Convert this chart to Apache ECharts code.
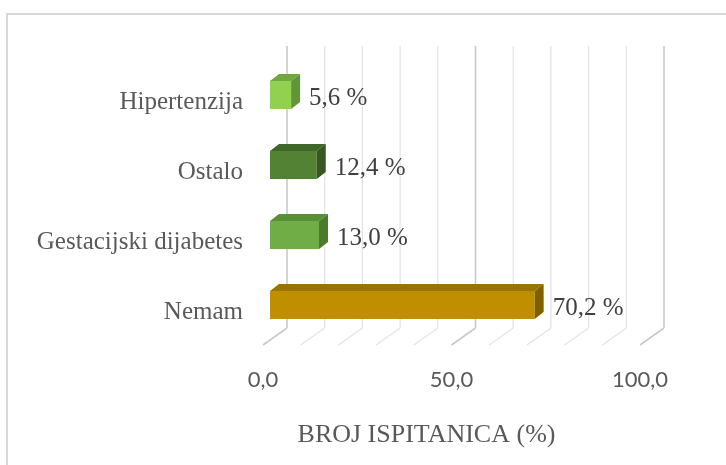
<!DOCTYPE html>
<html>
<head>
<meta charset="utf-8">
<script src="https://cdn.jsdelivr.net/npm/echarts@6/dist/echarts.min.js"></script>
<style>
html,body{margin:0;padding:0;background:#fff;}
#chart{width:726px;height:465px;}
</style>
</head>
<body>
<div id="chart"></div>
<script>
// ---- data ----
const categories = ['Nemam', 'Gestacijski dijabetes', 'Ostalo', 'Hipertenzija'];
const values = [70.2, 13.0, 12.4, 5.6];
const gridTicks = [0, 10, 20, 30, 40, 50, 60, 70, 80, 90, 100];
const axisName = 'BROJ ISPITANICA (%)';

// ---- styles ----
const frontColors = ['#bf8f00', '#70ad47', '#548235', '#92d050'];
const topColors   = ['#9a7300', '#5a8e37', '#3e6729', '#70a83e'];
const sideColors  = ['#7f6000', '#4b7a2e', '#375623', '#62943a'];
const FONT = '"Liberation Serif", "Times New Roman", serif';
const SANS = 'Lato, "Open Sans", sans-serif';

const G = { left: 263, top: 60, width: 377, height: 280 };
const depth = { dx: 24, dy: -17 };    // floor front -> back wall
const barShift = 7;                   // bar front face offset from floor front
const barDepth = { dx: 9, dy: -7 };
const wallTop = 46;

const chart = echarts.init(document.getElementById('chart'), null, { renderer: 'canvas' });

const option = {
  animation: false,
  backgroundColor: '#ffffff',
  graphic: [{
    type: 'rect', shape: { x: 7, y: 14, width: 800, height: 600 },
    style: { fill: null, stroke: '#d9d9d9', lineWidth: 2 }, silent: true, z: 0
  }],
  grid: { left: G.left, top: G.top, width: G.width, height: G.height, containLabel: false },
  xAxis: {
    type: 'value', min: 0, max: 100, interval: 50,
    axisLine: { show: false }, axisTick: { show: false }, splitLine: { show: false },
    axisLabel: {
      margin: 29, color: '#595959', fontFamily: SANS, fontSize: 22,
      formatter: v => v.toFixed(1).replace('.', ',')
    },
    name: axisName, nameLocation: 'middle', nameGap: 82,
    nameTextStyle: { color: '#595959', fontFamily: FONT, fontSize: 26, padding: [0, 50, 0, 0] }
  },
  yAxis: {
    type: 'category', data: categories,
    axisLine: { show: false }, axisTick: { show: false }, splitLine: { show: false },
    axisLabel: { margin: 20, color: '#595959', fontFamily: FONT, fontSize: 25,
                 verticalAlign: 'top', lineHeight: 14 }
  },
  series: [
    {
      type: 'custom', name: 'grid3d', z: 1, silent: true,
      data: gridTicks.map(t => [t, 0]),
      encode: { x: 0, y: 1 },
      renderItem: function (params, api) {
        const v = api.value(0);
        const pf = api.coord([v, 0]);
        const xf = pf[0];
        const yFloor = G.top + G.height + 5;
        const xb = xf + depth.dx, yb = yFloor + depth.dy;
        const major = (v % 50 === 0);
        const st = { stroke: major ? '#c9c9c9' : '#e3e3e3', lineWidth: major ? 1.6 : 1.2 };
        return {
          type: 'group', children: [
            { type: 'line', shape: { x1: xb, y1: wallTop, x2: xb, y2: yb }, style: st },
            { type: 'line', shape: { x1: xb, y1: yb, x2: xf, y2: yFloor }, style: st }
          ]
        };
      }
    },
    {
      type: 'custom', name: 'bars', z: 3,
      data: values.map((v, i) => [v, i]),
      encode: { x: 0, y: 1 },
      renderItem: function (params, api) {
        const v = api.value(0), idx = api.value(1);
        const p0 = api.coord([0, idx]);
        const p1 = api.coord([v, idx]);
        const h = api.size([0, 1])[1] * 0.4;
        const x0 = p0[0] + barShift, x1 = p1[0] + barShift;
        const yc = p0[1], yT = yc - h / 2, yB = yc + h / 2;
        const dx = barDepth.dx, dy = barDepth.dy;
        const i = params.dataIndex;
        return {
          type: 'group', children: [
            { type: 'rect', shape: { x: x0, y: yT, width: x1 - x0, height: h },
              style: { fill: frontColors[i] } },
            { type: 'polygon', shape: { points: [[x0, yT], [x1, yT], [x1 + dx, yT + dy], [x0 + dx, yT + dy]] },
              style: { fill: topColors[i] } },
            { type: 'polygon', shape: { points: [[x1, yT], [x1 + dx, yT + dy], [x1 + dx, yB + dy], [x1, yB]] },
              style: { fill: sideColors[i] } },
            { type: 'text', x: x1 + dx + 9, y: yc + 3,
              style: { text: v.toFixed(1).replace('.', ',') + ' %', fill: '#404040',
                       font: '25px ' + FONT, verticalAlign: 'middle', align: 'left' } }
          ]
        };
      }
    }
  ]
};
chart.setOption(option);
</script>
</body>
</html>
